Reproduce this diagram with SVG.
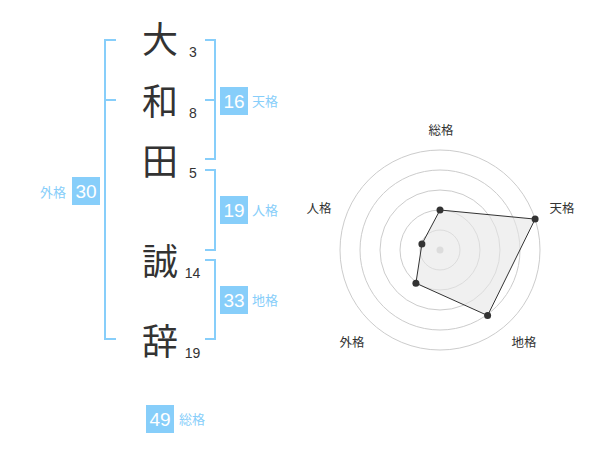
<svg xmlns="http://www.w3.org/2000/svg" width="600" height="470" viewBox="0 0 600 470">
<style>
.kj{font-family:"Noto Sans CJK JP","Noto Sans CJK SC",sans-serif;font-size:36px;fill:#333;text-anchor:middle}
.num{font-family:"Liberation Sans",Arial,sans-serif;font-size:14px;fill:#333;text-anchor:middle}
.br{fill:none;stroke:#87cefa;stroke-width:2}
.box{fill:#87cefa}
.bn{font-family:"Liberation Sans",Arial,sans-serif;font-size:19px;fill:#fff;text-anchor:middle}
.bl{font-family:"Noto Sans CJK JP",sans-serif;font-size:13px;fill:#87cefa}
.ring{fill:none;stroke:#ccc;stroke-width:1}
.rl{font-family:"Noto Sans CJK JP",sans-serif;font-size:12.5px;fill:#333;text-anchor:middle}
.pt{fill:#333}
</style>
<g id="chars">
<text class="kj" x="160" y="53">大</text>
<text class="kj" x="160" y="115">和</text>
<text class="kj" x="160" y="175">田</text>
<text class="kj" x="160" y="275">誠</text>
<text class="kj" x="160" y="355">辞</text>
<text class="num" x="193" y="57">3</text>
<text class="num" x="193" y="118">8</text>
<text class="num" x="193" y="178">5</text>
<text class="num" x="192.5" y="278">14</text>
<text class="num" x="192.5" y="358">19</text>
</g>
<g id="connectors">
<path class="br" d="M116 40H105V339H116M105 100H116"/>
<path class="br" d="M205 40H215V159H205M215 100H205"/>
<path class="br" d="M205 170H215V250H205"/>
<path class="br" d="M205 260H215V339H205"/>
</g>
<g id="gaikaku">
<rect class="box" x="72" y="177" width="28" height="28"/>
<text class="bn" x="86" y="198">30</text>
<text class="bl" x="40" y="197">外格</text>
</g>
<g id="tenkaku">
<rect class="box" x="220" y="87" width="28" height="28"/>
<text class="bn" x="234" y="108">16</text>
<text class="bl" x="252" y="106">天格</text>
</g>
<g id="jinkaku">
<rect class="box" x="220" y="196" width="28" height="28"/>
<text class="bn" x="234" y="217">19</text>
<text class="bl" x="252" y="215">人格</text>
</g>
<g id="chikaku">
<rect class="box" x="220" y="286" width="28" height="28"/>
<text class="bn" x="234" y="307">33</text>
<text class="bl" x="252" y="305">地格</text>
</g>
<g id="soukaku">
<rect class="box" x="146" y="405" width="28" height="28"/>
<text class="bn" x="160" y="426">49</text>
<text class="bl" x="179" y="424">総格</text>
</g>
<g id="radar">
<circle class="ring" cx="440" cy="250" r="20"/>
<circle class="ring" cx="440" cy="250" r="40"/>
<circle class="ring" cx="440" cy="250" r="60"/>
<circle class="ring" cx="440" cy="250" r="80"/>
<circle class="ring" cx="440" cy="250" r="100"/>
<circle cx="440" cy="250" r="3.5" fill="#ccc"/>
<polygon points="440,210 535.1,219.1 487.6,315.5 415.9,283.2 421.9,244.1" fill="#e6e6e6" fill-opacity="0.6" stroke="#333" stroke-width="1"/>
<circle class="pt" cx="440" cy="210" r="3.5"/>
<circle class="pt" cx="535.1" cy="219.1" r="3.5"/>
<circle class="pt" cx="487.6" cy="315.5" r="3.5"/>
<circle class="pt" cx="415.9" cy="283.2" r="3.5"/>
<circle class="pt" cx="421.9" cy="244.1" r="3.5"/>
<text class="rl" x="441" y="135">総格</text>
<text class="rl" x="562" y="213">天格</text>
<text class="rl" x="319" y="213">人格</text>
<text class="rl" x="352" y="347">外格</text>
<text class="rl" x="524" y="347">地格</text>
</g>
</svg>
